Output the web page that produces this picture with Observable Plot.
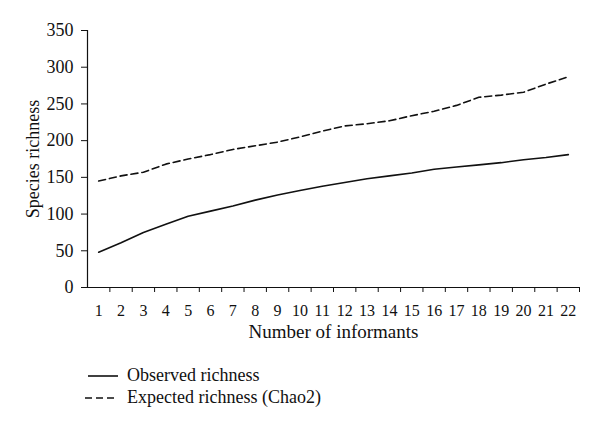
<!DOCTYPE html>
<html>
<head>
<meta charset="utf-8">
<script src="https://cdn.jsdelivr.net/npm/d3@7"></script>
<script src="https://cdn.jsdelivr.net/npm/@observablehq/plot@0.6"></script>
<style>
  html, body { margin: 0; padding: 0; background: #fff; }
  #chart svg { display: block; }
  .legend { font-family: "Liberation Serif", serif; font-size: 18px; color: #111; position: relative; height: 79px; }
  .legend .row { position: absolute; left: 84px; display: flex; align-items: center; }
  .legend svg { margin-right: 9px; }
</style>
</head>
<body>
<div id="chart"></div>
<div class="legend" id="legend"></div>
<script>
const informants = [1,2,3,4,5,6,7,8,9,10,11,12,13,14,15,16,17,18,19,20,21,22];
const observed = [48,61,75,86,97,104,111,119,126,132,138,143,148,152,156,161,164,167,170,174,177,181];
const expected = [145,152,157,168,175,181,188,193,198,205,213,220,223,227,234,240,248,259,262,266,277,287];
const yTicks = [0,50,100,150,200,250,300,350];
const seriesNames = ["Observed richness", "Expected richness (Chao2)"];

const obsData = informants.map((n, i) => ({n, v: observed[i]}));
const expData = informants.map((n, i) => ({n, v: expected[i]}));
const boundaries = informants.map(n => n + 0.5);

const font = "Liberation Serif, serif";
const plot = Plot.plot({
  width: 600,
  height: 350,
  marginLeft: 87,
  marginRight: 21,
  marginTop: 30,
  marginBottom: 63,
  style: {fontFamily: font, fontSize: "16px", color: "#111", background: "#fff"},
  x: {type: "linear", domain: [0.5, 22.5]},
  y: {domain: [0, 350]},
  marks: [
    Plot.axisY({ticks: yTicks, tickSize: 6, tickPadding: 8, label: "Species richness", labelAnchor: "center", labelArrow: "none", labelOffset: 61, fontSize: 18}),
    Plot.axisX({ticks: informants, tickSize: 0, tickPadding: 17, tickFormat: d => String(d), label: "Number of informants", labelAnchor: "center", labelArrow: "none", labelOffset: 50, fontSize: 16}),
    Plot.axisX({ticks: boundaries, tickSize: 5, tickFormat: () => "", label: null}),
    Plot.ruleY([0], {stroke: "#111", strokeWidth: 1.2}),
    Plot.ruleX([0.5], {stroke: "#111", strokeWidth: 1.2}),
    Plot.line(obsData, {x: "n", y: "v", stroke: "#111", strokeWidth: 1.6}),
    Plot.line(expData, {x: "n", y: "v", stroke: "#111", strokeWidth: 1.6, strokeDasharray: "7,4"})
  ]
});
document.getElementById("chart").appendChild(plot);
plot.querySelectorAll("[aria-label='y-axis label'] text").forEach(t => t.setAttribute("font-size", "18"));
plot.querySelectorAll("[aria-label='x-axis label'] text").forEach(t => t.setAttribute("font-size", "19"));

const legend = document.getElementById("legend");
const dashes = [null, "7,4"];
seriesNames.forEach((name, i) => {
  const row = document.createElement("div");
  row.className = "row";
  row.style.top = (15 + i * 22) + "px";
  const dash = dashes[i] ? `stroke-dasharray="${dashes[i]}"` : "";
  row.innerHTML = `<svg width="34" height="10"><line x1="${i ? 1 : 4}" y1="5" x2="34" y2="5" stroke="#111" stroke-width="1.6" ${dash}/></svg><span>${name}</span>`;
  legend.appendChild(row);
});
</script>
</body>
</html>
